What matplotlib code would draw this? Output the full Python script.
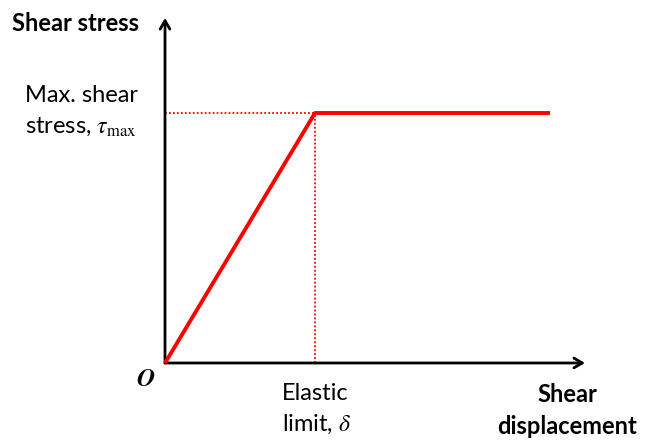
import matplotlib
matplotlib.use("Agg")
import matplotlib.pyplot as plt

# data (normalized units: elastic limit = 1, max shear stress = 1)
displacement = [0.0, 1.0, 2.567]
stress = [0.0, 1.0, 1.0]
elastic_limit = 1.0
tau_max = 1.0

plt.rcParams['font.family'] = ['Lato', 'DejaVu Sans']
plt.rcParams['mathtext.fontset'] = 'stix'

W, H = 646, 443
fig = plt.figure(figsize=(W/100, H/100), dpi=100)
x0, y0 = 165, 363
xend, ytop = 585, 18
ax = fig.add_axes([x0/W, (H-y0)/H, (xend-x0)/W, (y0-ytop)/H])
xmax = 2.8
ymax = (y0-ytop)/(y0-113)
ax.set_xlim(0, xmax)
ax.set_ylim(0, ymax)
ax.axis('off')

# axes arrows
arrowprops = dict(arrowstyle='->,head_width=0.35,head_length=0.6', lw=2.0, color='black',
                  shrinkA=0, shrinkB=0)
ax.annotate('', xy=(xmax, 0), xytext=(0, 0), arrowprops=arrowprops, annotation_clip=False)
ax.annotate('', xy=(0, ymax), xytext=(0, 0), arrowprops=arrowprops, annotation_clip=False)

# dotted guides
ax.plot([0, elastic_limit], [tau_max, tau_max], color='red', lw=1.3, ls=(0, (1, 1.2)), clip_on=False)
ax.plot([elastic_limit, elastic_limit], [0, tau_max], color='red', lw=1.3, ls=(0, (1, 1.2)), clip_on=False)

# curve
ax.plot(displacement, stress, color='red', lw=2.8, solid_capstyle='butt', clip_on=False, zorder=5)

# texts
fs = 17
def t(x, y, s, **kw):
    fig.text(x/W, 1-y/H, s, fontsize=kw.pop('fontsize', fs), va=kw.pop('va', 'baseline'), **kw)

t(12, 31, 'Shear stress', fontweight='bold', ha='left')
t(25, 102, 'Max. shear', ha='left')
t(25, 133, 'stress, $\\tau_{\\mathrm{max}}$', ha='left')
t(146, 378, '$\\boldsymbol{O}$', fontsize=18, ha='center', va='center')
t(282, 400, 'Elastic', ha='left')
t(282, 431, 'limit, $\\delta$', ha='left')
t(567, 402, 'Shear', fontweight='bold', ha='center')
t(567, 434, 'displacement', fontweight='bold', ha='center')

fig.savefig('out.png', dpi=100)
